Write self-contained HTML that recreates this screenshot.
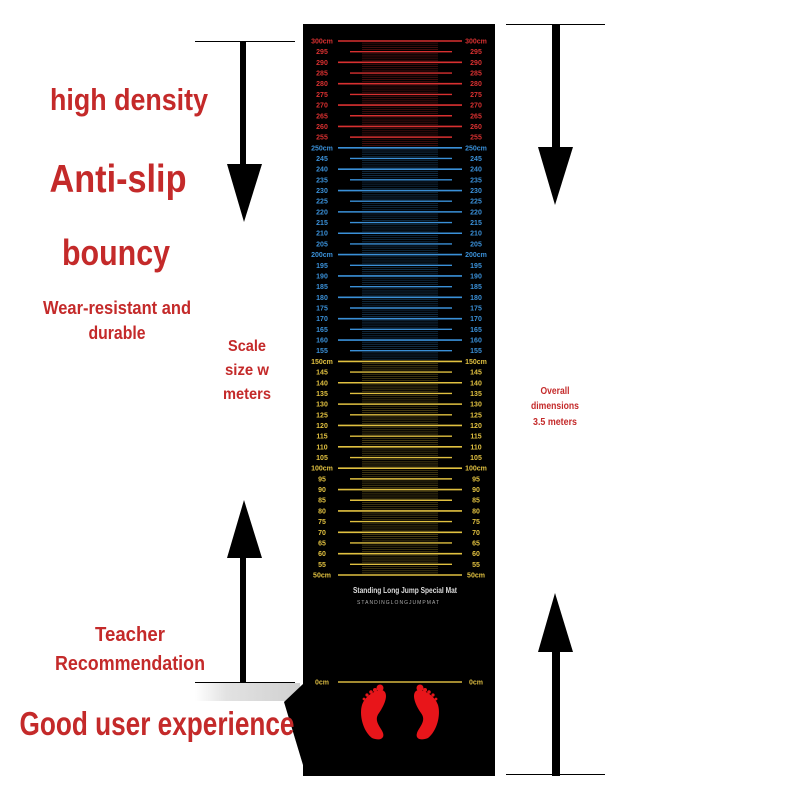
<!DOCTYPE html>
<html><head><meta charset="utf-8"><style>
html,body{margin:0;padding:0;background:#fff;}
svg{display:block;}
</style></head><body>
<svg id="s" width="800" height="800" viewBox="0 0 800 800" xmlns="http://www.w3.org/2000/svg" font-family="Liberation Sans, sans-serif">
<rect width="800" height="800" fill="#fff"/>
<defs><linearGradient id="g" x1="0" x2="1"><stop offset="0" stop-color="#fff"/><stop offset="0.3" stop-color="#e2e2e2"/><stop offset="1" stop-color="#d0d0d0"/></linearGradient></defs>
<rect x="195" y="683" width="105" height="18" fill="url(#g)"/>
<polygon points="284,702 303,684 303,765" fill="#000"/>
<rect x="303" y="24" width="192" height="752" fill="#000"/>
<g id="ticks" font-weight="bold"></g>
<text x="405" y="593" fill="#ddd" font-size="8" font-weight="bold" text-anchor="middle" textLength="104" lengthAdjust="spacingAndGlyphs">Standing Long Jump Special Mat</text>
<text x="398" y="604" fill="#aaa" font-size="5" text-anchor="middle" textLength="82" lengthAdjust="spacing">STANDINGLONGJUMPMAT</text>
<line x1="338" y1="682" x2="462" y2="682" stroke="#d8b840" stroke-width="1.5"/>
<text x="322" y="684.5" fill="#d8b840" font-size="7" font-weight="bold" text-anchor="middle">0cm</text>
<text x="476" y="684.5" fill="#d8b840" font-size="7" font-weight="bold" text-anchor="middle">0cm</text>
<g fill="#e8151a">
<path d="M382,690 C389,692 386,703 379,713 C373,721 381,727 383,733 C385,739 379,741 372,738 C363,731 359,715 362,705 C365,696 375,690 382,690Z"/>
<circle cx="380" cy="688" r="3.5"/><circle cx="375" cy="690" r="2"/><circle cx="371" cy="692" r="1.8"/><circle cx="367" cy="695" r="1.6"/><circle cx="364" cy="699" r="1.4"/>
<path d="M418,690 C411,692 414,703 421,713 C427,721 419,727 417,733 C415,739 421,741 428,738 C437,731 441,715 438,705 C435,696 425,690 418,690Z"/>
<circle cx="420" cy="688" r="3.5"/><circle cx="425" cy="690" r="2"/><circle cx="429" cy="692" r="1.8"/><circle cx="433" cy="695" r="1.6"/><circle cx="436" cy="699" r="1.4"/>
</g>
<g fill="#000" stroke="none">
<rect x="195" y="41" width="100" height="1"/>
<rect x="240" y="41" width="6" height="125"/>
<polygon points="227,164 262,164 244,222"/>
<rect x="506" y="24" width="99" height="1"/>
<rect x="552" y="24" width="8" height="125"/>
<polygon points="538,147 573,147 555,205"/>
<polygon points="244,500 227,558 262,558"/>
<rect x="240" y="556" width="6" height="127"/>
<rect x="195" y="682" width="100" height="1"/>
<polygon points="555,593 538,652 573,652"/>
<rect x="552" y="650" width="8" height="126"/>
<rect x="506" y="774" width="99" height="1"/>
</g>
<g fill="#c42a2a" text-anchor="middle" font-weight="bold">
<text x="129" y="110" font-size="31" textLength="158" lengthAdjust="spacingAndGlyphs">high density</text>
<text x="118" y="192" font-size="39" textLength="137" lengthAdjust="spacingAndGlyphs">Anti-slip</text>
<text x="116" y="265" font-size="36" textLength="108" lengthAdjust="spacingAndGlyphs">bouncy</text>
<text x="117" y="314" font-size="18" textLength="148" lengthAdjust="spacingAndGlyphs">Wear-resistant and</text>
<text x="117" y="339" font-size="18" textLength="57" lengthAdjust="spacingAndGlyphs">durable</text>
<text x="247" y="351" font-size="16" textLength="38" lengthAdjust="spacingAndGlyphs">Scale</text>
<text x="247" y="375" font-size="16" textLength="44" lengthAdjust="spacingAndGlyphs">size w</text>
<text x="247" y="399" font-size="16" textLength="48" lengthAdjust="spacingAndGlyphs">meters</text>
<text x="555" y="394" font-size="10.5" textLength="29" lengthAdjust="spacingAndGlyphs">Overall</text>
<text x="555" y="409" font-size="10.5" textLength="48" lengthAdjust="spacingAndGlyphs">dimensions</text>
<text x="555" y="425" font-size="10.5" textLength="44" lengthAdjust="spacingAndGlyphs">3.5 meters</text>
<text x="130" y="641" font-size="20" textLength="70" lengthAdjust="spacingAndGlyphs">Teacher</text>
<text x="130" y="670" font-size="20" textLength="150" lengthAdjust="spacingAndGlyphs">Recommendation</text>
<text x="157" y="735" font-size="33" textLength="275" lengthAdjust="spacingAndGlyphs">Good user experience</text>
</g>
</svg>
<script>
(function(){
var g=document.getElementById('ticks'),h='';
for(var i=0;i<=50;i++){
 var v=300-5*i,y=41+i*10.68;
 var c=v>250?'#d83030':(v>150?'#3a90d8':'#e0c040');
 var major=v%10==0;
 var x1=major?338:350,x2=major?462:452;
 h+='<line x1="'+x1+'" y1="'+y+'" x2="'+x2+'" y2="'+y+'" stroke="'+c+'" stroke-width="'+(major?1.6:1.4)+'"/>';
 if(i<50){for(var k=1;k<5;k++){var yy=y+k*2.14;h+='<line x1="362" y1="'+yy+'" x2="438" y2="'+yy+'" stroke="'+c+'" stroke-opacity="0.35" stroke-width="0.8"/>';}}
 var lab=(v%50==0)?v+'cm':''+v;
 h+='<text x="322" y="'+(y+2.5)+'" fill="'+c+'" font-size="7" text-anchor="middle">'+lab+'</text>';
 h+='<text x="476" y="'+(y+2.5)+'" fill="'+c+'" font-size="7" text-anchor="middle">'+lab+'</text>';
}
g.innerHTML=h;
})();
</script>
</body></html>
